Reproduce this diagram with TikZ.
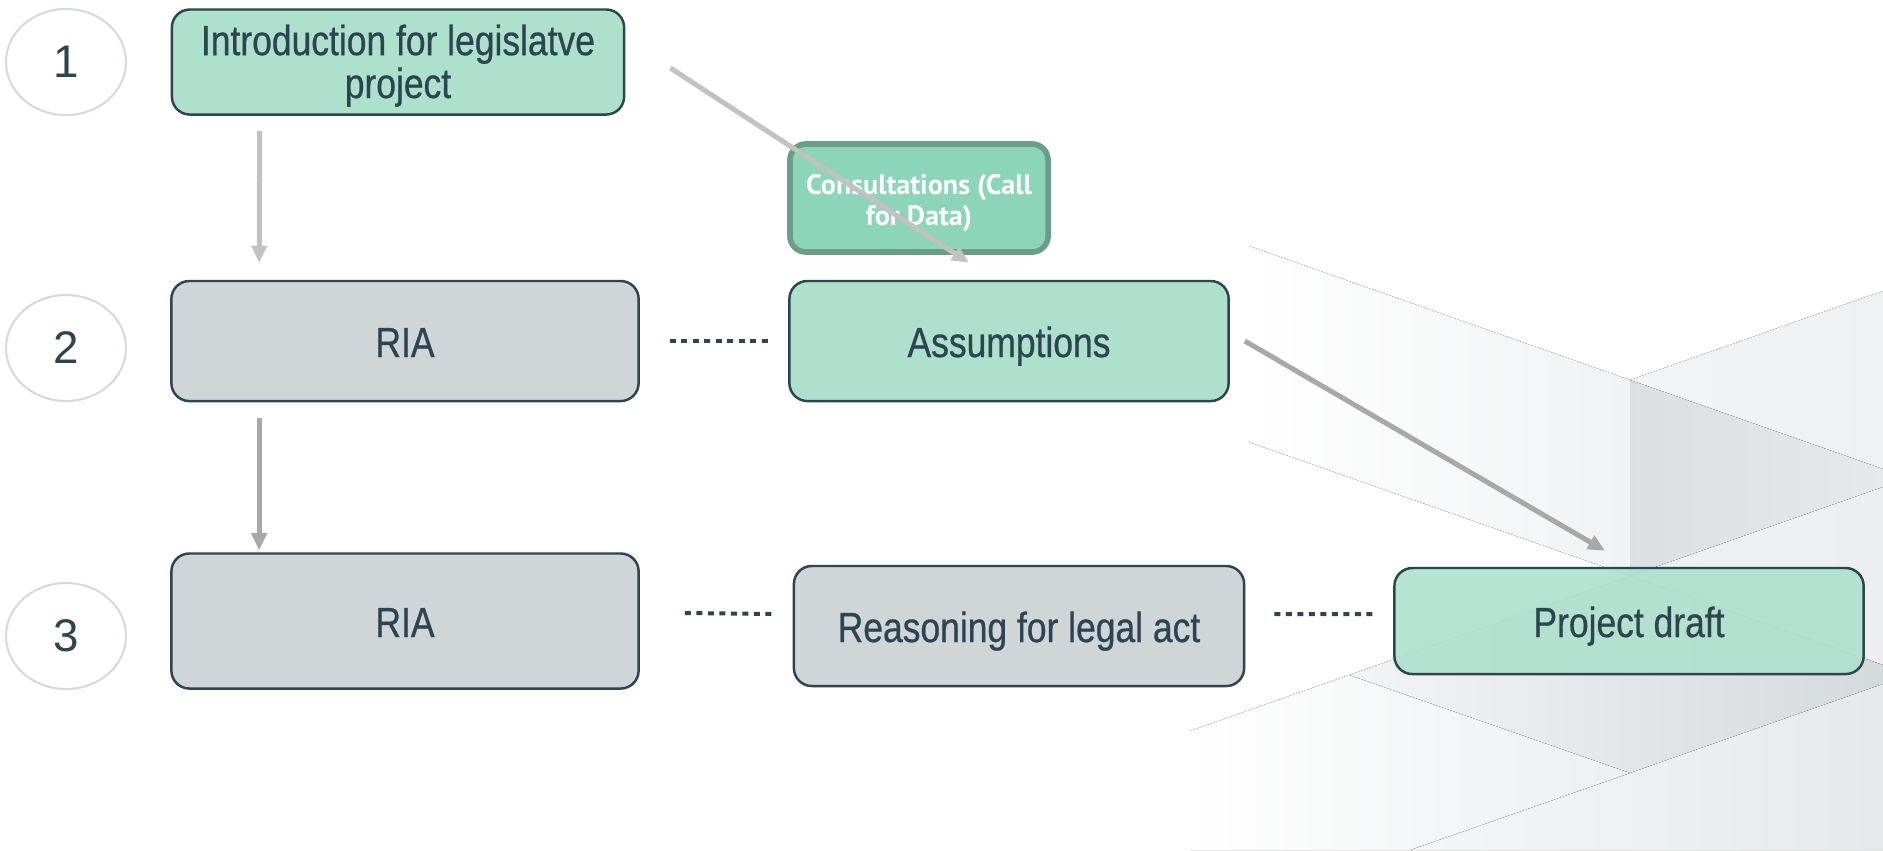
\documentclass[tikz,border=0pt]{standalone}
\usepackage{fontspec}
\setmainfont{Liberation Sans}
\newfontfamily\narrowsans[FakeStretch=0.84, FakeBold=0.6]{Liberation Sans}
\newfontfamily\calloutsans{PT Sans}
\usetikzlibrary{shapes.geometric, arrows.meta, positioning, calc}
\definecolor{slate}{HTML}{2D4452}
\definecolor{mint}{HTML}{ADE1CB}
\definecolor{mintdeep}{HTML}{8CD5B8}
\definecolor{mintedge}{HTML}{6A9E88}
\definecolor{stone}{HTML}{D0D5D8}
\definecolor{ringgray}{HTML}{D6DADD}
\definecolor{arrowlight}{HTML}{C2C2C2}
\definecolor{arrowdark}{HTML}{A8A8A8}

\begin{document}
\begin{tikzpicture}[
    x=0.01cm, y=-0.01cm,
    stepnum/.style={
        ellipse, draw=ringgray, line width=0.6pt, fill=white,
        minimum width=1.2cm, minimum height=1.06cm, inner sep=0pt,
        text=slate, font=\fontsize{13}{13}\selectfont
    },
    greenbox/.style={
        rectangle, rounded corners=0.18cm, draw=slate, line width=0.7pt,
        fill=mint, inner sep=0pt, align=center, text=slate,
        text height=0.36cm, text depth=0.04cm,
        font=\narrowsans\fontsize{12}{12.2}\selectfont
    },
    graybox/.style={greenbox, fill=stone},
    callout/.style={
        rectangle, rounded corners=0.16cm, draw=mintedge, line width=1.6pt,
        fill=mintdeep, inner sep=0pt, align=center, text=white,
        text height=0.58cm, text depth=0.04cm,
        font=\calloutsans\bfseries\fontsize{8}{8.8}\selectfont
    },
    flow/.style={-{Triangle[length=0.17cm,width=0.15cm]}, line width=0.05cm},
    link/.style={slate, line width=0.04cm, dash pattern=on 0.06cm off 0.055cm}
]
\useasboundingbox (0,0) rectangle (1883,850);

% --- background facets ---
\fill[left color=white, right color=slate!7] (1249,246) -- (1630,380) -- (1630,576) -- (1249,442) -- cycle;
\fill[left color=slate!6, right color=slate!8] (1630,380) -- (1883,291) -- (1883,469) -- cycle;
\fill[left color=slate!17, right color=slate!12] (1630,380) -- (1883,469) -- (1883,487) -- (1630,576) -- cycle;
\fill[left color=slate!8, right color=slate!9] (1630,576) -- (1883,487) -- (1883,665) -- cycle;
\fill[left color=slate!6, right color=slate!20] (1630,576) -- (1883,665) -- (1883,684) -- (1630,773) -- (1349,675) -- cycle;
\fill[left color=slate!5, right color=slate!12] (1630,773) -- (1883,684) -- (1883,850) -- (1410,850) -- cycle;
\fill[left color=white, right color=slate!9] (1349,675) -- (1630,773) -- (1410,850) -- (1190,850) -- (1190,731) -- cycle;

% --- step numbers ---
\node[stepnum] (one)   at (66,62)  {1};
\node[stepnum] (two)   at (66,348) {2};
\node[stepnum] (three) at (66,636) {3};

% --- boxes ---
\node[greenbox, text height=0.8cm, text depth=0.08cm, minimum width=4.52cm, minimum height=1.05cm] (intro) at (398,62)
    {Introduction for legislatve\\project};
\node[graybox, minimum width=4.67cm, minimum height=1.2cm] (riatwo) at (405,341) {RIA};
\node[callout, minimum width=2.58cm, minimum height=1.08cm] (consult) at (919,198)
    {Consultations (Call\\for Data)};
\node[greenbox, minimum width=4.39cm, minimum height=1.2cm] (assump) at (1009,341) {Assumptions};
\node[graybox, minimum width=4.67cm, minimum height=1.35cm] (riathree) at (405,621) {RIA};
\node[graybox, minimum width=4.5cm, minimum height=1.2cm] (reason) at (1019,626) {Reasoning for legal act};
\node[greenbox, fill opacity=0.9, text opacity=1, minimum width=4.69cm, minimum height=1.06cm] (draft) at (1629,621) {Project draft};

% --- arrows ---
\draw[flow, arrowlight] ([xshift=0.89cm,yshift=-0.15cm]intro.south west) -- ([xshift=0.89cm,yshift=0.17cm]riatwo.north west);
\draw[flow, arrowdark] ([xshift=0.89cm,yshift=-0.16cm]riatwo.south west) -- ([xshift=0.89cm,yshift=0.02cm]riathree.north west);
\draw[flow, arrowlight] ([xshift=0.45cm,yshift=-0.06cm]intro.east) -- ([xshift=-0.4cm,yshift=0.17cm]assump.north);
\draw[flow, arrowdark] ([xshift=0.15cm]assump.east) -- ([xshift=-0.24cm,yshift=0.16cm]draft.north);

% --- dotted links ---
\draw[link] ([xshift=0.3cm]riatwo.east) -- ([xshift=-0.18cm]assump.west);
\draw[link] ([xshift=0.45cm,yshift=0.08cm]riathree.east) -- ([xshift=-0.18cm,yshift=0.12cm]reason.west);
\draw[link] ([xshift=0.29cm,yshift=0.12cm]reason.east) -- ([xshift=-0.18cm,yshift=0.07cm]draft.west);

\end{tikzpicture}
\end{document}
